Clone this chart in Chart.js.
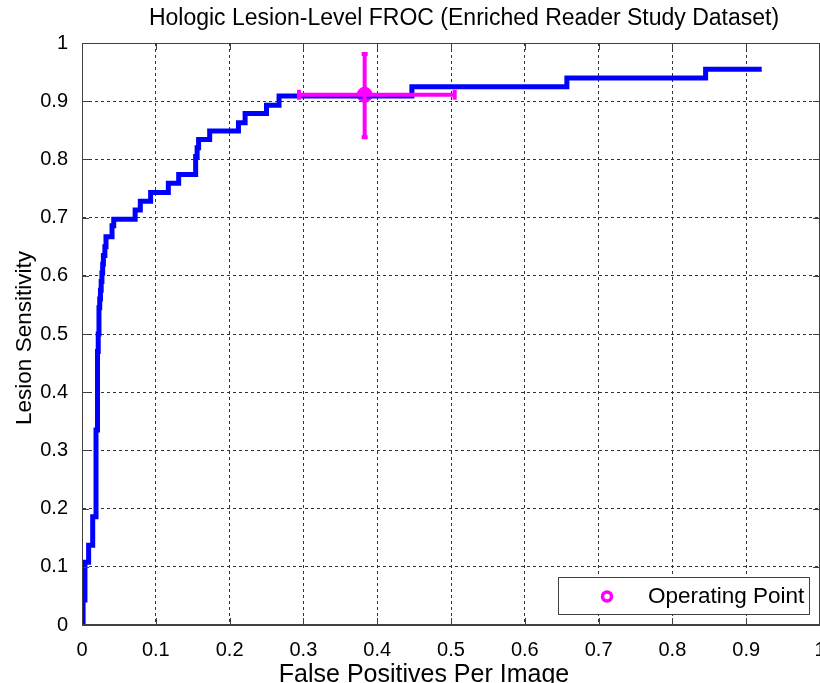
<!DOCTYPE html>
<html>
<head>
<meta charset="utf-8">
<script src="https://cdn.jsdelivr.net/npm/chart.js@4.4.1/dist/chart.umd.min.js"></script>
<style>
  html, body { margin: 0; padding: 0; background: #fff; overflow: hidden; }
</style>
</head>
<body>
<canvas id="froc" width="846" height="700"></canvas>
<script>
// FROC curve: x where the curve steps up, y after the step
const fpPerImage = [0, 0.0015, 0.004, 0.009, 0.0145, 0.019, 0.021, 0.022, 0.023, 0.024, 0.025,
  0.026, 0.027, 0.028, 0.029, 0.031, 0.0325, 0.0407, 0.043, 0.072, 0.079, 0.093, 0.117, 0.131,
  0.154, 0.156, 0.158, 0.173, 0.212, 0.221, 0.250, 0.267, 0.447, 0.657, 0.845, 0.921]
const sensitivity = [0, 0.043, 0.108, 0.137, 0.186, 0.335, 0.47, 0.50, 0.545, 0.56, 0.575,
  0.59, 0.605, 0.62, 0.635, 0.65, 0.667, 0.686, 0.697, 0.713, 0.728, 0.743, 0.759, 0.774,
  0.805, 0.82, 0.834, 0.849, 0.863, 0.879, 0.893, 0.909, 0.925, 0.940, 0.955, 0.955]

// operating point with its error bars
const opPoint = [0.383, 0.911]
const opXRange = [0.294, 0.505]
const opYRange = [0.838, 0.981]

const xTicks = [0, 0.1, 0.2, 0.3, 0.4, 0.5, 0.6, 0.7, 0.8, 0.9, 1]
const yTicks = [0, 0.1, 0.2, 0.3, 0.4, 0.5, 0.6, 0.7, 0.8, 0.9, 1]

const titleText = 'Hologic Lesion-Level FROC (Enriched Reader Study Dataset)'
const xTitle = 'False Positives Per Image'
const yTitle = 'Lesion Sensitivity'
const legendText = 'Operating Point'
const FONT = '"Liberation Sans", Arial, sans-serif'

const fmt = v => String(Math.round(v * 10) / 10)

const extras = {
  id: 'extras',
  afterDatasetDraw(chart, args) {
    if (args.index !== 0) return
    const {ctx, scales: {x, y}} = chart
    const cx = x.getPixelForValue(opPoint[0]), cy = y.getPixelForValue(opPoint[1])
    const x1 = x.getPixelForValue(opXRange[0]), x2 = x.getPixelForValue(opXRange[1])
    const y1 = y.getPixelForValue(opYRange[0]), y2 = y.getPixelForValue(opYRange[1])
    ctx.save()
    ctx.strokeStyle = '#ff00ff'
    ctx.lineWidth = 4
    ctx.beginPath()
    ctx.moveTo(x1, cy); ctx.lineTo(x2, cy)
    ctx.moveTo(x1, cy - 5); ctx.lineTo(x1, cy + 5)
    ctx.moveTo(x2, cy - 5); ctx.lineTo(x2, cy + 5)
    ctx.moveTo(cx, y1); ctx.lineTo(cx, y2)
    ctx.moveTo(cx - 3, y1); ctx.lineTo(cx + 3, y1)
    ctx.moveTo(cx - 3, y2); ctx.lineTo(cx + 3, y2)
    ctx.stroke()
    ctx.restore()
  },
  afterDraw(chart) {
    const {ctx, chartArea: a, scales: {x, y}} = chart
    ctx.save()
    // box + inner ticks
    ctx.strokeStyle = '#404040'
    ctx.lineWidth = 1
    ctx.strokeRect(a.left + 0.5, a.top + 0.5, a.right - a.left - 1, a.bottom - a.top - 1)
    ctx.beginPath()
    xTicks.forEach(v => {
      const px = Math.round(x.getPixelForValue(v)) + 0.5
      ctx.moveTo(px, a.bottom); ctx.lineTo(px, a.bottom - 7)
      ctx.moveTo(px, a.top); ctx.lineTo(px, a.top + 7)
    })
    yTicks.forEach(v => {
      const py = Math.round(y.getPixelForValue(v)) + 0.5
      ctx.moveTo(a.left, py); ctx.lineTo(a.left + 7, py)
      ctx.moveTo(a.right, py); ctx.lineTo(a.right - 7, py)
    })
    ctx.stroke()

    // titles
    ctx.fillStyle = '#000'
    ctx.font = '23px ' + FONT
    ctx.textAlign = 'center'
    ctx.textBaseline = 'middle'
    ctx.fillText(titleText, 464, 19)

    ctx.font = '25px ' + FONT
    ctx.textBaseline = 'alphabetic'
    ctx.fillText(xTitle, 424, 682)

    ctx.save()
    ctx.translate(31, 338)
    ctx.rotate(-Math.PI / 2)
    ctx.font = '22.5px ' + FONT
    ctx.fillText(yTitle, 0, 0)
    ctx.restore()

    // legend
    const lx = 558, ly = 577, lw = 251, lh = 37
    ctx.fillStyle = '#fff'
    ctx.fillRect(lx, ly, lw, lh)
    ctx.strokeStyle = '#404040'
    ctx.strokeRect(lx + 0.5, ly + 0.5, lw, lh)
    ctx.strokeStyle = '#ff00ff'
    ctx.lineWidth = 3.5
    ctx.beginPath()
    ctx.arc(607, ly + lh / 2 + 1, 4.5, 0, Math.PI * 2)
    ctx.stroke()
    ctx.fillStyle = '#000'
    ctx.font = '22.5px ' + FONT
    ctx.textAlign = 'left'
    ctx.textBaseline = 'middle'
    ctx.fillText(legendText, 648, ly + lh / 2 + 1)
    ctx.restore()
  }
}

const curve = fpPerImage.map((v, i) => ({x: v, y: sensitivity[i]}))

new Chart(document.getElementById('froc'), {
  type: 'line',
  data: {
    datasets: [{
      label: 'FROC',
      data: curve,
      borderColor: '#0000ff',
      borderWidth: 5,
      stepped: true,
      pointRadius: 0,
      fill: false,
      borderCapStyle: 'butt',
      borderJoinStyle: 'miter'
    }, {
      label: legendText,
      data: [{x: opPoint[0], y: opPoint[1]}],
      showLine: false,
      pointRadius: 7.5,
      pointBackgroundColor: '#ff00ff',
      pointBorderColor: '#ff00ff',
      pointBorderWidth: 1
    }]
  },
  options: {
    responsive: false,
    animation: false,
    layout: {padding: {top: 43, right: 26, left: 0, bottom: 0}},
    plugins: {legend: {display: false}, title: {display: false}, tooltip: {enabled: false}},
    scales: {
      x: {
        type: 'linear', min: 0, max: 1,
        afterFit: s => { s.height = 75 },
        afterBuildTicks: s => { s.ticks = xTicks.map(v => ({value: v})) },
        ticks: {callback: fmt, color: '#000', font: {family: FONT, size: 20}, padding: 13, maxRotation: 0},
        grid: {color: '#333', lineWidth: 1, drawTicks: false},
        border: {display: true, color: '#404040', dash: [3, 3]}
      },
      y: {
        type: 'linear', min: 0, max: 1,
        afterFit: s => { s.width = 82 },
        afterBuildTicks: s => { s.ticks = yTicks.map(v => ({value: v})) },
        ticks: {callback: fmt, color: '#000', font: {family: FONT, size: 20}, padding: 14},
        grid: {color: '#333', lineWidth: 1, drawTicks: false},
        border: {display: true, color: '#404040', dash: [3, 3]}
      }
    }
  },
  plugins: [extras]
})
</script>
</body>
</html>
